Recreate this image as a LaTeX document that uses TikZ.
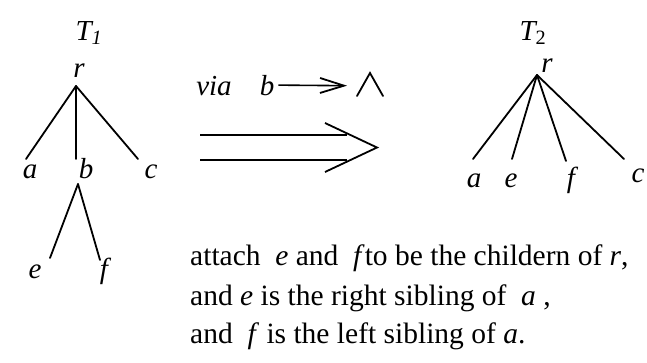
\documentclass[tikz,border=0pt]{standalone}
\usepackage{fontspec}
\setmainfont{Liberation Serif}
\usetikzlibrary{arrows.meta,positioning}
\tikzset{
  treelabel/.style={anchor=base,inner sep=0pt,font=\fontsize{29}{32}\selectfont\itshape},
  treeedge/.style={line width=1.8pt,line cap=round},
  notetext/.style={anchor=base west,inner sep=0pt,font=\fontsize{29.5}{32}\selectfont},
  viaarrow/.style={-{Straight Barb[length=24pt,width=15pt,line width=1.8pt]},line width=1.6pt,shorten <=4pt},
  bigarrow/.style={line width=1.8pt,line join=miter}
}

\begin{document}
\begin{tikzpicture}[x=1pt,y=-1pt]
\useasboundingbox (0,0) rectangle (647,362);

\node[treelabel] (T1) at (89,40) {T\textsubscript{1}};
\node[treelabel] (r1) at (79,77) {r};
\node[treelabel] (a1) at (30,178) {a};
\node[treelabel] (b1) at (86,178) {b};
\node[treelabel] (c1) at (151,178) {c};
\node[treelabel] (e1) at (35,278) {e};
\node[treelabel] (f1) at (104,278) {f};
\coordinate (r1root) at (76,86);
\coordinate (a1top) at (26,159);
\coordinate (b1top) at (76,159);
\coordinate (c1top) at (138,159);
\coordinate (b1root) at (78,184);
\coordinate (e1top) at (50,258);
\coordinate (f1top) at (100,260);
\draw[treeedge] (r1root) -- (a1top);
\draw[treeedge] (r1root) -- (b1top);
\draw[treeedge] (r1root) -- (c1top);
\draw[treeedge] (b1root) -- (e1top);
\draw[treeedge] (b1root) -- (f1top);

\node[treelabel] (via) at (214,95) {via};
\node[treelabel] (vb) at (267,95) {b};
\coordinate (viahead) at (347,85.7);
\draw[viaarrow] (vb.east) -- (viahead);
\coordinate (wedgeL) at (357,96);
\coordinate (wedgeT) at (370,73);
\coordinate (wedgeR) at (383,96);
\draw[treeedge,line join=miter] (wedgeL) -- (wedgeT) -- (wedgeR);

\draw[bigarrow] (200,135) -- (347,135) (200,160) -- (347,160);
\draw[bigarrow] (325,123) -- (377,147.5) -- (325,172);

\node[treelabel] (T2) at (533,40) {T\textsubscript{\upshape 2}};
\node[treelabel] (r2) at (547,72) {r};
\node[treelabel] (a2) at (474,187) {a};
\node[treelabel] (e2) at (511,187) {e};
\node[treelabel] (f2) at (571,187) {f};
\node[treelabel] (c2) at (638,182) {c};
\coordinate (r2root) at (537,75);
\coordinate (a2top) at (473,159);
\coordinate (e2top) at (512,159);
\coordinate (f2top) at (566,161);
\coordinate (c2top) at (624,159);
\foreach \leaf in {a2top,e2top,f2top,c2top}
  \draw[treeedge] (r2root) -- (\leaf);

\node[notetext] (line1) at (190,265) {attach \ \textit{e} and \ \textit{f}to be the childern of \textit{r},};
\node[notetext] (line2) at (190,305) {and \textit{e} is the right sibling of \ \textit{a} ,};
\node[notetext] (line3) at (190,343) {and \ \textit{f} is the left sibling of \textit{a}.};
\end{tikzpicture}
\end{document}
